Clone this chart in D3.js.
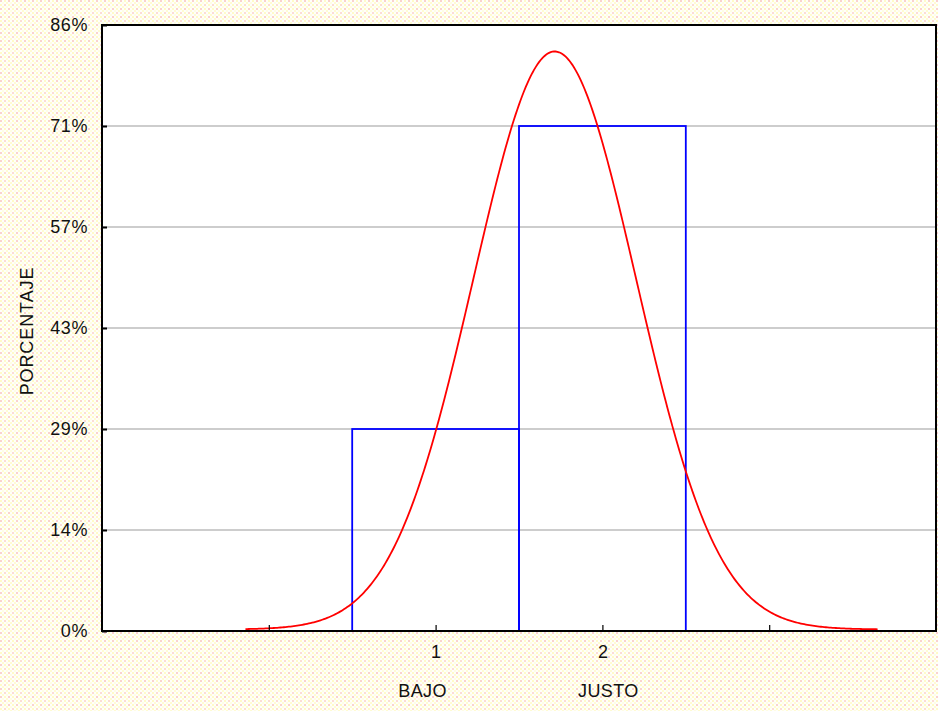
<!DOCTYPE html>
<html>
<head>
<meta charset="utf-8">
<script src="https://cdn.jsdelivr.net/npm/d3@7"></script>
<style>
  html, body { margin: 0; padding: 0; background: #fff; }
  svg { display: block; }
  text { font-family: "Liberation Sans", Arial, sans-serif; fill: #111; }
</style>
</head>
<body>
<svg id="chart" width="938" height="711"></svg>
<script>
// Response categories, their numeric codes and observation counts
const categories = ["BAJO", "JUSTO"];
const codes = [1, 2];
const counts = [2, 5];

// Y axis ticks: one step per observation out of the total
const yTickSteps = [0, 1, 2, 3, 4, 5, 6];
const yTickLabels = ["0%", "14%", "29%", "43%", "57%", "71%", "86%"];

// X axis tick positions (only the category codes are labelled)
const xTickValues = [0, 1, 2, 3];
const xDomain = [-1, 4];

// Span over which the fitted normal curve is drawn
const curveRange = [-0.14, 3.65];

const total = d3.sum(counts);
const percents = counts.map(c => c / total);

const W = 938, H = 711;
const plot = { left: 102, top: 25, right: 936, bottom: 631 };

const svg = d3.select("#chart");

// Dotted background outside the plot area
const defs = svg.append("defs");
const pat = defs.append("pattern")
  .attr("id", "dots").attr("width", 8).attr("height", 8)
  .attr("patternUnits", "userSpaceOnUse");
pat.append("rect").attr("width", 8).attr("height", 8).attr("fill", "#fffffa");
[[0, 0, "#fad2cf"], [4, 0, "#fffbc8"], [0, 4, "#fffbc8"], [4, 4, "#fcdcd6"],
 [2, 2, "#fffde4"], [6, 6, "#fffde4"], [6, 2, "#fffbd2"], [2, 6, "#fffbd2"]]
  .forEach(([x, y, c]) => pat.append("rect").attr("x", x).attr("y", y)
    .attr("width", 2).attr("height", 2).attr("fill", c));
svg.append("rect").attr("width", W).attr("height", H).attr("fill", "url(#dots)");

// Plot area
svg.append("rect")
  .attr("x", plot.left).attr("y", plot.top)
  .attr("width", plot.right - plot.left).attr("height", plot.bottom - plot.top)
  .attr("fill", "#fff");

const x = d3.scaleLinear().domain(xDomain).range([plot.left, plot.right]);
const y = d3.scaleLinear().domain([0, 6 / total]).range([plot.bottom, plot.top]);

// Horizontal gridlines
svg.append("g").selectAll("line")
  .data(yTickSteps.slice(1, -1))
  .join("line")
  .attr("x1", plot.left).attr("x2", plot.right)
  .attr("y1", d => y(d / total)).attr("y2", d => y(d / total))
  .attr("stroke", "#bdbdbd").attr("stroke-width", 1.5);

// Histogram bars (one unit wide, centred on each code)
svg.append("g").selectAll("rect")
  .data(codes.map((c, i) => ({ code: c, p: percents[i] })))
  .join("rect")
  .attr("x", d => x(d.code - 0.5))
  .attr("y", d => y(d.p))
  .attr("width", d => x(d.code + 0.5) - x(d.code - 0.5))
  .attr("height", d => y(0) - y(d.p))
  .attr("fill", "none")
  .attr("stroke", "#0000ff")
  .attr("stroke-width", 1.8);

// Fitted normal curve, scaled to the bar width and expressed as a share
const values = codes.flatMap((c, i) => d3.range(counts[i]).map(() => c));
const mu = d3.mean(values);
const sd = d3.deviation(values);
const normal = v => Math.exp(-0.5 * ((v - mu) / sd) ** 2) / (sd * Math.sqrt(2 * Math.PI));
const curvePts = d3.range(curveRange[0], curveRange[1] + 1e-9, 0.01).map(v => [v, normal(v)]);
svg.append("path")
  .datum(curvePts)
  .attr("fill", "none")
  .attr("stroke", "#ff0000")
  .attr("stroke-width", 1.8)
  .attr("d", d3.line().x(d => x(d[0])).y(d => y(d[1]) - 1.5));

// Frame
svg.append("rect")
  .attr("x", plot.left).attr("y", plot.top)
  .attr("width", plot.right - plot.left).attr("height", plot.bottom - plot.top)
  .attr("fill", "none").attr("stroke", "#000").attr("stroke-width", 2);

// Y axis: inward ticks, labels on the left
const yAxis = d3.axisLeft(y)
  .tickValues(yTickSteps.map(k => k / total))
  .tickFormat((d, i) => yTickLabels[i])
  .tickSizeInner(-5).tickSizeOuter(0).tickPadding(14);
const gy = svg.append("g").attr("transform", `translate(${plot.left},0)`).call(yAxis);
gy.select(".domain").remove();
gy.selectAll(".tick line").attr("stroke", "#000").attr("stroke-width", 2);
gy.selectAll(".tick text")
  .attr("font-size", 18).attr("letter-spacing", 0.6)
  .attr("font-family", "Liberation Sans, Arial, sans-serif").attr("fill", "#111");

// X axis: inward ticks, code labels below
const xAxis = d3.axisBottom(x)
  .tickValues(xTickValues)
  .tickFormat(d => codes.includes(d) ? String(d) : "")
  .tickSizeInner(-6).tickSizeOuter(0).tickPadding(14);
const gx = svg.append("g").attr("transform", `translate(0,${plot.bottom})`).call(xAxis);
gx.select(".domain").remove();
gx.selectAll(".tick line").attr("stroke", "#000").attr("stroke-width", 1.2);
gx.selectAll(".tick text")
  .attr("font-size", 18)
  .attr("font-family", "Liberation Sans, Arial, sans-serif").attr("fill", "#111");

// Category names under the codes
const nameShift = [-13, 6];
svg.append("g").selectAll("text")
  .data(categories)
  .join("text")
  .attr("x", (d, i) => x(codes[i]) + nameShift[i])
  .attr("y", 697)
  .attr("text-anchor", "middle")
  .attr("font-size", 18)
  .attr("letter-spacing", 0.4)
  .text(d => d);

// Y axis title
svg.append("text")
  .attr("transform", `translate(33,${(plot.top + plot.bottom) / 2 + 3}) rotate(-90)`)
  .attr("text-anchor", "middle")
  .attr("font-size", 18)
  .attr("letter-spacing", 0.9)
  .text("PORCENTAJE");
</script>
</body>
</html>
